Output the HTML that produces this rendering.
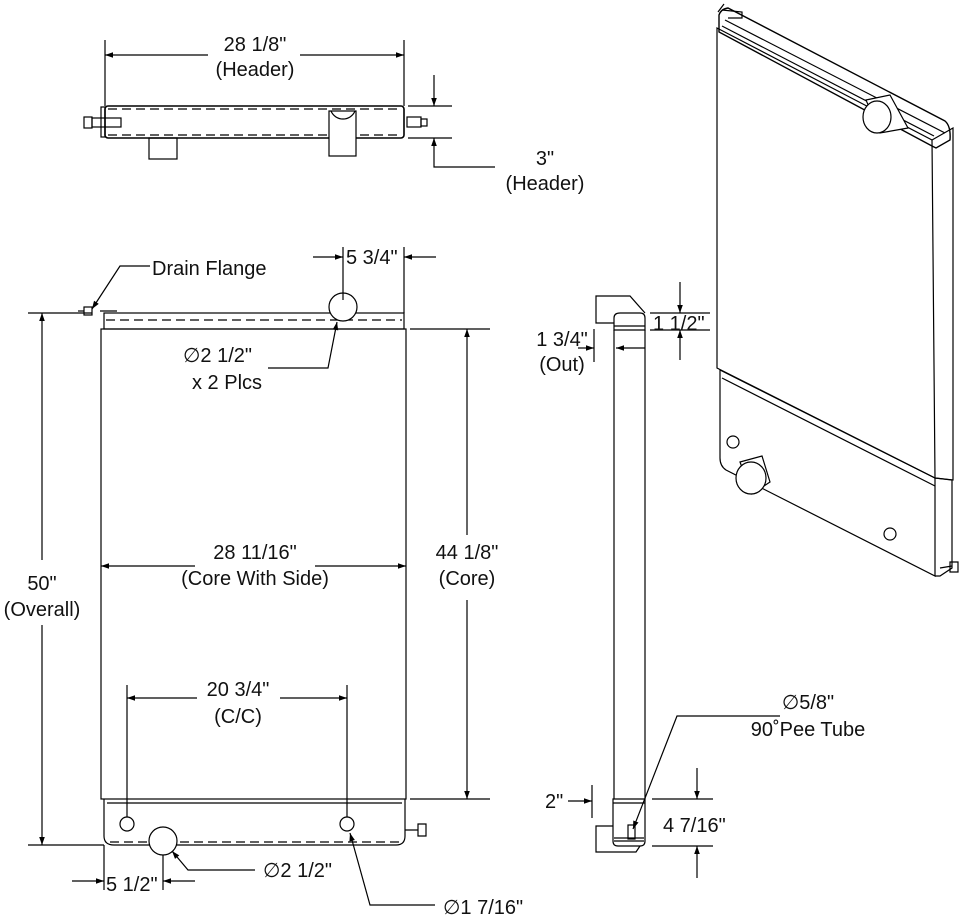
<!DOCTYPE html>
<html><head><meta charset="utf-8"><style>
html,body{margin:0;padding:0;background:#fff}
svg{display:block}
text{font-family:"Liberation Sans",sans-serif;font-size:20px;fill:#111}
</style></head><body>
<svg width="960" height="917" viewBox="0 0 960 917" xmlns="http://www.w3.org/2000/svg">
<defs>
<marker id="a" viewBox="0 0 10 10" refX="10" refY="5" markerWidth="16" markerHeight="8" markerUnits="userSpaceOnUse" orient="auto"><path d="M0,1.5 L10,5 L0,8.5z" fill="#000"/></marker>
</defs>
<g fill="none" stroke="#000" stroke-width="1.2">
<!-- TOP VIEW -->
<line x1="105" y1="40" x2="105" y2="106"/><line x1="404" y1="40" x2="404" y2="106"/>
<line x1="208" y1="55" x2="105" y2="55" marker-end="url(#a)"/><line x1="300" y1="55" x2="404" y2="55" marker-end="url(#a)"/>
<rect x="105" y="106" width="299" height="32" rx="3" stroke-width="1.6"/>
<line x1="108" y1="109" x2="402" y2="109" stroke-dasharray="9,5"/>
<line x1="108" y1="135" x2="402" y2="135" stroke-dasharray="9,5"/>
<rect x="101" y="107" width="4" height="30"/>
<rect x="92" y="118" width="29" height="9"/>
<rect x="84" y="117" width="8" height="11"/>
<rect x="149" y="138" width="28" height="21"/>
<rect x="329" y="111" width="27" height="45" fill="#fff"/>
<path d="M331,111 A13,13 0 0 0 355,111"/>
<rect x="407" y="117" width="14" height="10"/><rect x="421" y="119" width="6" height="7"/>
<line x1="408" y1="106" x2="452" y2="106"/><line x1="408" y1="138" x2="452" y2="138"/>
<line x1="434" y1="75" x2="434" y2="106" marker-end="url(#a)"/>
<polyline points="495,167 434,167 434,138" marker-end="url(#a)"/>
<!-- FRONT VIEW -->
<rect x="101" y="329" width="305" height="470"/>
<rect x="104" y="313" width="300" height="16"/>
<line x1="106" y1="320" x2="402" y2="320" stroke-dasharray="9,5"/>
<line x1="100" y1="311" x2="117" y2="311"/>
<rect x="84" y="307" width="8" height="8"/><line x1="78" y1="311" x2="84" y2="311"/>
<path d="M104,799 L104,836 Q104,845 114,845 L396,845 Q405,845 405,836 L405,799"/>
<line x1="107" y1="803" x2="402" y2="803"/>
<line x1="110" y1="842" x2="400" y2="842" stroke-dasharray="9,5"/>
<circle cx="343" cy="307" r="14" fill="#fff"/>
<circle cx="163" cy="841" r="14" fill="#fff"/>
<circle cx="127" cy="824" r="7"/><circle cx="347" cy="824" r="7"/>
<path d="M405,830 L418,830 M418,824 h8 v12 h-8z"/>
<!-- 50 -->
<line x1="28" y1="313" x2="92" y2="313"/><line x1="28" y1="845" x2="104" y2="845"/>
<line x1="42" y1="560" x2="42" y2="313" marker-end="url(#a)"/><line x1="42" y1="625" x2="42" y2="845" marker-end="url(#a)"/>
<!-- 44 1/8 -->
<line x1="410" y1="329" x2="490" y2="329"/><line x1="410" y1="799" x2="490" y2="799"/>
<line x1="467" y1="535" x2="467" y2="329" marker-end="url(#a)"/><line x1="467" y1="600" x2="467" y2="799" marker-end="url(#a)"/>
<!-- 28 11/16 -->
<line x1="195" y1="566" x2="101" y2="566" marker-end="url(#a)"/><line x1="315" y1="566" x2="406" y2="566" marker-end="url(#a)"/>
<!-- 20 3/4 -->
<line x1="127" y1="685" x2="127" y2="817"/><line x1="347" y1="685" x2="347" y2="817"/>
<line x1="197" y1="698" x2="127" y2="698" marker-end="url(#a)"/><line x1="280" y1="698" x2="347" y2="698" marker-end="url(#a)"/>
<!-- 5 3/4 -->
<line x1="343" y1="247" x2="343" y2="300"/><line x1="404" y1="247" x2="404" y2="313"/>
<line x1="313" y1="257" x2="343" y2="257" marker-end="url(#a)"/><line x1="436" y1="257" x2="404" y2="257" marker-end="url(#a)"/>
<polyline points="150,266 120,266 92,309" marker-end="url(#a)"/>
<polyline points="268,368 328,368 337,322" marker-end="url(#a)"/>
<!-- 5 1/2 -->
<line x1="104" y1="845" x2="104" y2="890"/><line x1="163" y1="855" x2="163" y2="890"/>
<line x1="72" y1="881" x2="104" y2="881" marker-end="url(#a)"/><line x1="195" y1="881" x2="163" y2="881" marker-end="url(#a)"/>
<polyline points="255,870 188,870 172,851" marker-end="url(#a)"/>
<polyline points="435,905 370,905 350,833" marker-end="url(#a)"/>
<!-- SIDE VIEW -->
<line x1="614" y1="330" x2="614" y2="799"/><line x1="645" y1="330" x2="645" y2="799"/>
<path d="M614,330 L614,318 Q614,313 620,313 L640,313 Q645,313 645,318 L645,330z"/>
<line x1="614" y1="326" x2="645" y2="326"/>
<polyline points="614,323 596,323 596,296 630,296 645,313"/>
<path d="M613,799 h32 v42 q0,5 -5,5 h-22 q-5,0 -5,-5z"/><line x1="613" y1="803" x2="645" y2="803"/>
<line x1="614" y1="838" x2="644" y2="838"/><line x1="614" y1="841" x2="644" y2="841"/>
<rect x="628" y="825" width="7" height="14"/>
<polyline points="613,826 596,826 596,852 636,852 640,846"/>
<line x1="594" y1="329" x2="594" y2="362"/>
<line x1="578" y1="348" x2="594" y2="348" marker-end="url(#a)"/><line x1="645" y1="348" x2="616" y2="348" marker-end="url(#a)"/>
<line x1="650" y1="313" x2="710" y2="313"/><line x1="650" y1="330" x2="710" y2="330"/>
<line x1="680" y1="282" x2="680" y2="313" marker-end="url(#a)"/><line x1="680" y1="360" x2="680" y2="330" marker-end="url(#a)"/>
<polyline points="780,716 677,716 633,829" marker-end="url(#a)"/>
<line x1="592" y1="785" x2="592" y2="818"/>
<line x1="568" y1="801" x2="592" y2="801" marker-end="url(#a)"/>
<line x1="652" y1="799" x2="713" y2="799"/><line x1="652" y1="846" x2="713" y2="846"/>
<line x1="697" y1="768" x2="697" y2="799" marker-end="url(#a)"/><line x1="697" y1="878" x2="697" y2="846" marker-end="url(#a)"/>
<!-- ISO VIEW -->
<path d="M719,30 L719,15 Q721,9 728,8 L945,121 Q951,126 950,140 L936,148 L932,146 L719,32z" stroke-width="1.4"/>
<line x1="725" y1="20" x2="945" y2="133"/><line x1="722" y1="26" x2="934" y2="136"/>
<path d="M717,28 L932,140 L935,478 L717,368z"/>
<path d="M932,140 L953,128 L953,480 L935,478"/>
<path d="M720,370 L935,478 L935,576 L726,470 Q720,466 720,458z"/>
<line x1="722" y1="378" x2="935" y2="486"/>
<path d="M935,478 L952,480 L952,568 L940,576 L935,576"/>
<path d="M866,100 L890,95 L908,128 L880,133z" fill="#fff"/>
<ellipse cx="877" cy="117" rx="14" ry="16" fill="#fff"/>
<path d="M740,462 L762,456 L770,482 L752,494z" fill="#fff"/>
<ellipse cx="751" cy="478" rx="15" ry="16" fill="#fff"/>
<circle cx="733" cy="442" r="6"/><circle cx="890" cy="534" r="6"/>
<path d="M718,12 L724,4 M722,10 L742,12 L742,18 L728,18"/>
<path d="M940,568 L952,566 M950,562 h8 v10 h-8z"/>
</g>
<g>
<text x="255" y="51" text-anchor="middle">28 1/8"</text>
<text x="255" y="76" text-anchor="middle">(Header)</text>
<text x="545" y="165" text-anchor="middle">3"</text>
<text x="545" y="190" text-anchor="middle">(Header)</text>
<text x="152" y="275">Drain Flange</text>
<text x="346" y="264">5 3/4"</text>
<text x="183" y="362">∅2 1/2"</text>
<text x="192" y="389">x 2 Plcs</text>
<text x="42" y="590" text-anchor="middle">50"</text>
<text x="42" y="616" text-anchor="middle">(Overall)</text>
<text x="467" y="559" text-anchor="middle">44 1/8"</text>
<text x="467" y="585" text-anchor="middle">(Core)</text>
<text x="255" y="559" text-anchor="middle">28 11/16"</text>
<text x="255" y="585" text-anchor="middle">(Core With Side)</text>
<text x="238" y="696" text-anchor="middle">20 3/4"</text>
<text x="238" y="723" text-anchor="middle">(C/C)</text>
<text x="106" y="891">5 1/2"</text>
<text x="263" y="877">∅2 1/2"</text>
<text x="443" y="914">∅1 7/16"</text>
<text x="562" y="346" text-anchor="middle">1 3/4"</text>
<text x="562" y="371" text-anchor="middle">(Out)</text>
<text x="653" y="330">1 1/2"</text>
<text x="808" y="709" text-anchor="middle">∅5/8"</text>
<text x="808" y="736" text-anchor="middle">90˚Pee Tube</text>
<text x="545" y="808">2"</text>
<text x="663" y="832">4 7/16"</text>
</g>
</svg>
</body></html>
